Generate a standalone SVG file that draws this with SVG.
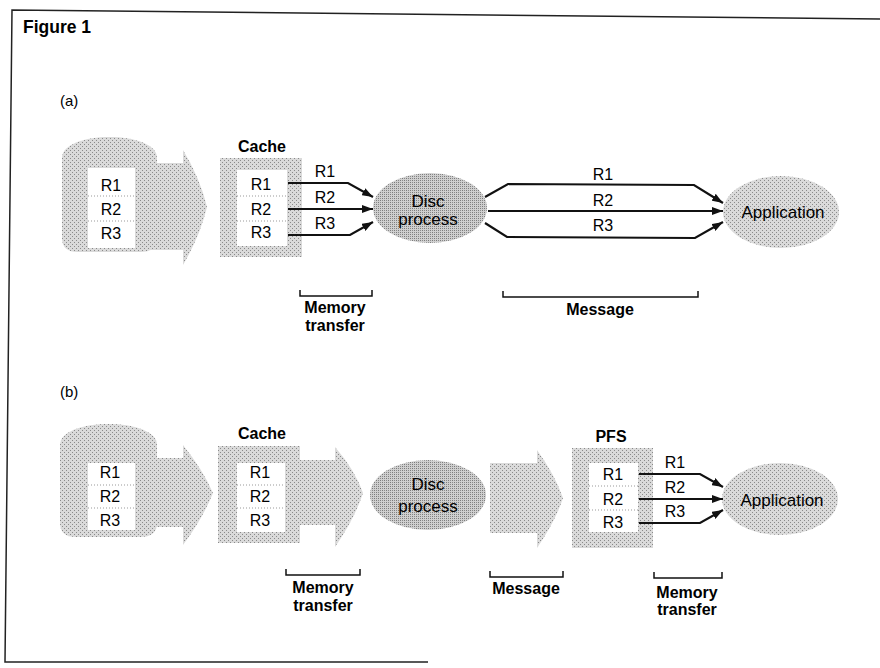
<svg xmlns="http://www.w3.org/2000/svg" width="880" height="668" viewBox="0 0 880 668">
<defs>
<pattern id="st" width="4" height="4" patternUnits="userSpaceOnUse">
<rect width="4" height="4" fill="#dadada"/>
<rect x="0" y="0" width="1" height="1" fill="#8a8a8a"/>
<rect x="2" y="2" width="1" height="1" fill="#8a8a8a"/>
</pattern>
<pattern id="st2" width="4" height="4" patternUnits="userSpaceOnUse">
<rect width="4" height="4" fill="#cfcfcf"/>
<rect x="0" y="0" width="1" height="1" fill="#7a7a7a"/>
<rect x="2" y="2" width="1" height="1" fill="#7a7a7a"/>
<rect x="2" y="0" width="1" height="1" fill="#8a8a8a"/>
<rect x="0" y="2" width="1" height="1" fill="#8a8a8a"/>
</pattern>
<marker id="ah" markerUnits="userSpaceOnUse" markerWidth="11" markerHeight="8" refX="11" refY="4" orient="auto">
<path d="M0,0 L11,4 L0,8 Z" fill="#111"/>
</marker>
</defs>
<style>
.sh{fill:url(#st);stroke:none}
.sh2{fill:url(#st2);stroke:none}
.wb{fill:#fff;stroke:none}
.sep{stroke:#999;stroke-width:1;stroke-dasharray:1,2}
.r{font-family:"Liberation Sans",Arial,sans-serif;font-size:16px;fill:#000;text-anchor:middle}
.big{font-size:17px}
.b{font-family:"Liberation Sans",Arial,sans-serif;font-size:16px;font-weight:bold;fill:#000;text-anchor:middle}
.ln{fill:none;stroke:#111;stroke-width:2.2;stroke-linejoin:miter}
.br{fill:none;stroke:#111;stroke-width:1.5}
.frame{fill:none;stroke:#222;stroke-width:1.5}
</style>
<rect width="880" height="668" fill="#fff"/>
<g id="frame">
<path class="frame" d="M880,19 L12,10 L5,662 L428,662"/>
<text x="23" y="33" font-family="Liberation Sans,Arial,sans-serif" font-size="17.5" font-weight="bold" fill="#000">Figure 1</text>
<text x="60" y="106" font-family="Liberation Sans,Arial,sans-serif" font-size="15" fill="#000">(a)</text>
<text x="60" y="397" font-family="Liberation Sans,Arial,sans-serif" font-size="15" fill="#000">(b)</text>
</g>

<!-- Part (a) -->
<g id="a-disk">
<path class="sh" d="M140,163 L183,163 L183,150 Q200,178 207,207 Q200,236 183,265 L183,250 L140,250 Z"/>
<path class="sh" d="M62,158 C62,130 157,130 157,158 L157,238 Q157,252 140,252 L78,252 Q62,252 62,238 Z"/>
<rect class="wb" x="88" y="168" width="47" height="80"/>
<line class="sep" x1="88" y1="196" x2="135" y2="196"/>
<line class="sep" x1="88" y1="221" x2="135" y2="221"/>
<text class="r" x="111" y="191">R1</text>
<text class="r" x="111" y="215">R2</text>
<text class="r" x="111" y="239">R3</text>
</g>
<g id="a-cache">
<rect class="sh" x="220" y="158" width="82" height="99"/>
<rect class="wb" x="237" y="170" width="50" height="76"/>
<line class="sep" x1="237" y1="196" x2="287" y2="196"/>
<line class="sep" x1="237" y1="221" x2="287" y2="221"/>
<text class="b" x="262" y="152">Cache</text>
<text class="r" x="261" y="190">R1</text>
<text class="r" x="261" y="215">R2</text>
<text class="r" x="261" y="238">R3</text>
</g>
<g id="a-disc-process">
<ellipse class="sh2" cx="430" cy="208" rx="57" ry="35"/>
<text class="r big" x="428" y="207">Disc</text>
<text class="r big" x="428" y="225">process</text>
</g>
<g id="a-application">
<ellipse class="sh" cx="781" cy="212" rx="58" ry="36"/>
<text class="r big" x="783" y="218">Application</text>
</g>
<g id="a-connectors">
<path class="ln" d="M288,183 L348,183 L373,197" marker-end="url(#ah)"/>
<path class="ln" d="M288,209 L373,209" marker-end="url(#ah)"/>
<path class="ln" d="M288,235 L350,235 L373,222" marker-end="url(#ah)"/>
<path class="ln" d="M485,197 L508,184 L694,185 L723,203" marker-end="url(#ah)"/>
<path class="ln" d="M488,211 L723,211" marker-end="url(#ah)"/>
<path class="ln" d="M485,223 L507,237 L695,238 L723,222" marker-end="url(#ah)"/>
<text class="r" x="325" y="177">R1</text>
<text class="r" x="325" y="203">R2</text>
<text class="r" x="325" y="229">R3</text>
<text class="r" x="603" y="180">R1</text>
<text class="r" x="603" y="206">R2</text>
<text class="r" x="603" y="231">R3</text>
</g>
<g id="a-labels">
<path class="br" d="M300,290 L300,296 L372,296 L372,290"/>
<text class="b" x="335" y="313">Memory</text>
<text class="b" x="335" y="331">transfer</text>
<path class="br" d="M503,291 L503,297 L698,297 L698,291"/>
<text class="b" x="600" y="315">Message</text>
</g>

<!-- Part (b) -->
<g id="b-disk">
<path class="sh" d="M140,458 L183,458 L183,445 Q203,470 213,493 Q203,518 183,545 L183,527 L140,527 Z"/>
<path class="sh" d="M60,445 C60,417 157,417 157,445 L157,523 Q157,537 140,537 L76,537 Q60,537 60,523 Z"/>
<rect class="wb" x="88" y="463" width="47" height="67"/>
<line class="sep" x1="88" y1="485" x2="135" y2="485"/>
<line class="sep" x1="88" y1="508" x2="135" y2="508"/>
<text class="r" x="110" y="478">R1</text>
<text class="r" x="110" y="502">R2</text>
<text class="r" x="110" y="526">R3</text>
</g>
<g id="b-cache">
<path class="sh" d="M290,460 L335,460 L335,447 Q355,470 363,493 Q355,518 335,547 L335,525 L290,525 Z"/>
<rect class="sh" x="218" y="446" width="82" height="97"/>
<rect class="wb" x="237" y="463" width="48" height="69"/>
<line class="sep" x1="237" y1="485" x2="285" y2="485"/>
<line class="sep" x1="237" y1="508" x2="285" y2="508"/>
<text class="b" x="262" y="439">Cache</text>
<text class="r" x="260" y="478">R1</text>
<text class="r" x="260" y="502">R2</text>
<text class="r" x="260" y="526">R3</text>
</g>
<g id="b-disc-process">
<ellipse class="sh2" cx="428" cy="495" rx="58" ry="35"/>
<text class="r big" x="428" y="490">Disc</text>
<text class="r big" x="428" y="512">process</text>
</g>
<g id="b-message">
<path class="sh" d="M490,463 L537,463 L537,450 Q555,475 563,498 Q555,522 537,548 L537,533 L490,533 Z"/>
</g>
<g id="b-pfs">
<rect class="sh" x="572" y="448" width="81" height="100"/>
<rect class="wb" x="589" y="463" width="49" height="69"/>
<line class="sep" x1="589" y1="486" x2="638" y2="486"/>
<line class="sep" x1="589" y1="510" x2="638" y2="510"/>
<text class="b" x="611" y="442">PFS</text>
<text class="r" x="613" y="480">R1</text>
<text class="r" x="613" y="505">R2</text>
<text class="r" x="613" y="528">R3</text>
</g>
<g id="b-application">
<ellipse class="sh" cx="780" cy="499" rx="58" ry="36"/>
<text class="r big" x="782" y="506">Application</text>
</g>
<g id="b-connectors">
<path class="ln" d="M639,474 L700,474 L723,487" marker-end="url(#ah)"/>
<path class="ln" d="M639,499 L723,499" marker-end="url(#ah)"/>
<path class="ln" d="M639,523 L700,523 L723,510" marker-end="url(#ah)"/>
<text class="r" x="675" y="468">R1</text>
<text class="r" x="675" y="493">R2</text>
<text class="r" x="675" y="517">R3</text>
</g>
<g id="b-labels">
<path class="br" d="M286,569 L286,575 L360,575 L360,569"/>
<text class="b" x="323" y="593">Memory</text>
<text class="b" x="323" y="611">transfer</text>
<path class="br" d="M490,571 L490,577 L563,577 L563,571"/>
<text class="b" x="526" y="594">Message</text>
<path class="br" d="M654,572 L654,578 L722,578 L722,572"/>
<text class="b" x="687" y="598">Memory</text>
<text class="b" x="687" y="615">transfer</text>
</g>
</svg>
